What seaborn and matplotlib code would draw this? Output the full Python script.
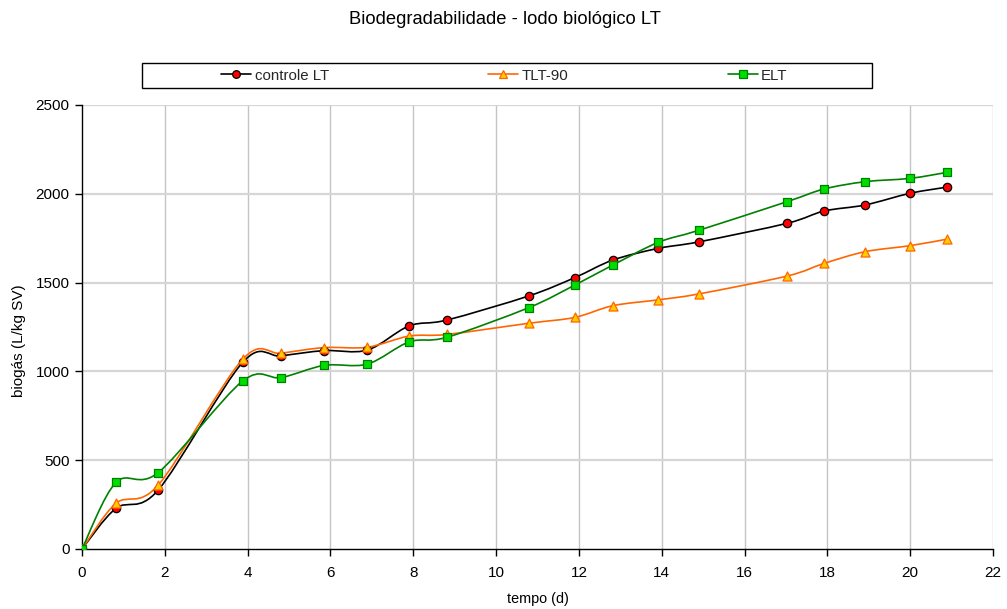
import numpy as np
import pandas as pd
import matplotlib
matplotlib.use("Agg")
import matplotlib.pyplot as plt
from matplotlib.path import Path
from matplotlib.patches import PathPatch, Rectangle
from matplotlib.lines import Line2D
import seaborn as sns

# Sampling days and cumulative biogas yield (L/kg SV)
tempo = [0, 0.82, 1.84, 3.88, 4.81, 5.85, 6.89, 7.90, 8.81, 10.79, 11.90, 12.82,
         13.92, 14.89, 17.03, 17.92, 18.91, 20.0, 20.9]
controle_lt = [0, 229, 332, 1051, 1087, 1117, 1120, 1256, 1289, 1425, 1528, 1627,
               1693, 1729, 1834, 1903, 1937, 2003, 2038]
tlt_90 = [0, 257, 360, 1068, 1102, 1134, 1136, 1199, 1208, 1271, 1304, 1370,
          1403, 1436, 1537, 1608, 1674, 1708, 1745]
elt = [0, 375, 430, 946, 965, 1034, 1041, 1166, 1192, 1359, 1486, 1599,
       1727, 1794, 1956, 2027, 2068, 2087, 2121]

series_names = ["controle LT", "TLT-90", "ELT"]
series_values = [controle_lt, tlt_90, elt]

df = pd.concat(
    [pd.DataFrame({"tempo": tempo, "biogas": v, "serie": n})
     for n, v in zip(series_names, series_values)],
    ignore_index=True,
)

styles = {
    "controle LT": dict(line="#000000", marker="o", face="#FF0000", edge="#000000", ms=6.0),
    "TLT-90": dict(line="#FF6600", marker="^", face="#FFCC00", edge="#FF6600", ms=6.5),
    "ELT": dict(line="#008000", marker="s", face="#00DD00", edge="#008000", ms=6.0),
}

sns.set_theme(style="white")
plt.rcParams["font.family"] = ["Liberation Sans", "DejaVu Sans"]

fig = plt.figure(figsize=(10.07, 6.09), dpi=100)
ax = fig.add_axes([82 / 1007, 1 - 549 / 609, (993 - 82) / 1007, (549 - 105) / 609])


def smooth_path(xs, ys, k=0.16):
    """Cubic Bezier path through the points (Catmull-Rom style tangents)."""
    pts = np.column_stack([xs, ys]).astype(float)
    n = len(pts)
    verts = [pts[0]]
    codes = [Path.MOVETO]
    for i in range(n - 1):
        p0 = pts[i - 1] if i > 0 else pts[i]
        p1 = pts[i]
        p2 = pts[i + 1]
        p3 = pts[i + 2] if i + 2 < n else pts[i + 1]
        c1 = p1 + (p2 - p0) * k
        c2 = p2 - (p3 - p1) * k
        verts += [c1, c2, p2]
        codes += [Path.CURVE4] * 3
    return Path(verts, codes)


for name in series_names:
    st = styles[name]
    sub = df[df["serie"] == name]
    ax.add_patch(PathPatch(smooth_path(sub["tempo"], sub["biogas"]),
                           facecolor="none", edgecolor=st["line"], lw=1.2, zorder=3))
    sns.scatterplot(data=sub, x="tempo", y="biogas", ax=ax, marker=st["marker"],
                    s=st["ms"] ** 2, color=st["face"], edgecolor=st["edge"],
                    linewidth=0.9, zorder=4, legend=False)

ax.set_xlim(0, 22)
ax.set_ylim(0, 2500)
ax.set_xticks(np.arange(0, 23, 2))
ax.set_yticks(np.arange(0, 2501, 500))

for x in np.arange(2, 23, 2):
    ax.axvline(x, color="#C4C4C4", lw=1.0, zorder=1)
for y in np.arange(500, 2501, 500):
    ax.axhline(y, color="#D6D6D6", lw=1.6, zorder=1)

for side in ["top", "right"]:
    ax.spines[side].set_visible(False)
for side in ["left", "bottom"]:
    ax.spines[side].set_color("#000000")
    ax.spines[side].set_linewidth(1.0)

ax.tick_params(axis="both", which="major", direction="out", length=5, width=1,
               color="#000000", labelsize=11, labelcolor="#000000",
               bottom=True, left=True)
ax.tick_params(axis="x", pad=7)
ax.tick_params(axis="y", pad=4)

ax.set_xlabel("tempo (d)", fontsize=10.4, color="#000000", labelpad=9)
ax.set_ylabel("biogás (L/kg SV)", fontsize=11, color="#000000")
ax.yaxis.set_label_coords(-0.062, 0.47)

fig.text(505 / 1007, 1 - 20 / 609, "Biodegradabilidade - lodo biológico LT",
         ha="center", va="center", fontsize=13.2, color="#000000")

# Legend: one row of entries inside a wide rectangular frame
handles = [
    Line2D([0], [0], color=styles[n]["line"], lw=1.2, marker=styles[n]["marker"],
           markersize=styles[n]["ms"] - 0.5, markerfacecolor=styles[n]["face"],
           markeredgecolor=styles[n]["edge"], markeredgewidth=0.9)
    for n in series_names
]
fig.legend(handles, series_names, loc="center left",
           bbox_to_anchor=(221 / 1007, 1 - 75.5 / 609),
           ncol=3, frameon=False, borderpad=0, fontsize=10.8,
           handlelength=2.0, handletextpad=0.25, columnspacing=10.6,
           borderaxespad=0)
fig.patches.append(Rectangle((142 / 1007, 1 - 88 / 609), 730 / 1007, 25 / 609,
                             transform=fig.transFigure, fill=False,
                             edgecolor="#000000", linewidth=1.0))

fig.savefig("out.png", dpi=100)
